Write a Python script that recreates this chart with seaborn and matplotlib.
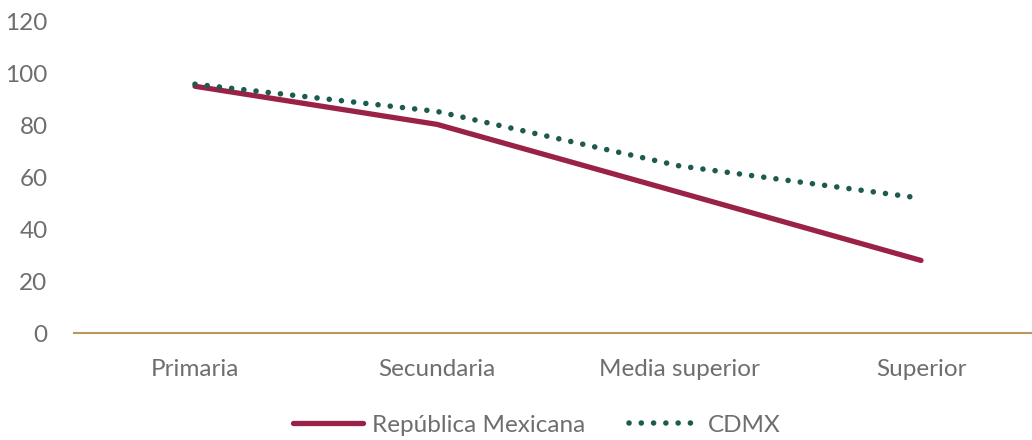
import matplotlib
matplotlib.use("Agg")
import matplotlib.pyplot as plt
import seaborn as sns
import pandas as pd

niveles = ["Primaria", "Secundaria", "Media superior", "Superior"]
republica = [95.2, 80.5, 54.3, 28.0]
cdmx = [96.0, 85.5, 64.5, 52.0]

rojo = "#9B2247"
verde = "#1E5B4F"
dorado = "#BC955C"
gris = "#6E6E6E"

sns.set_style("white")
plt.rcParams["font.family"] = ["Lato", "DejaVu Sans"]

df = pd.DataFrame({"nivel": niveles, "rep": republica, "cdmx": cdmx})

fig = plt.figure(figsize=(10.32, 4.4), dpi=100)
ax = fig.add_axes([74 / 1032, 107 / 440, 968 / 1032, 311 / 440])

sns.lineplot(data=df, x="nivel", y="rep", ax=ax, color=rojo,
             linewidth=3.8, label="República Mexicana", sort=False)
sns.lineplot(data=df, x="nivel", y="cdmx", ax=ax, color=verde,
             linewidth=4.0, label="CDMX", sort=False)

lineas = ax.get_lines()
lineas[0].set_solid_capstyle("round")
lineas[0].set_solid_joinstyle("round")
lineas[1].set_linestyle((0, (0.01, 2.2)))
lineas[1].set_dash_capstyle("round")

ax.set_xlim(-0.5, 3.5)
ax.set_ylim(0, 120)
ax.set_yticks(range(0, 121, 20))
ax.set_xlabel("")
ax.set_ylabel("")

for s in ["top", "right", "left"]:
    ax.spines[s].set_visible(False)
ax.spines["bottom"].set_color(dorado)
ax.spines["bottom"].set_linewidth(1.5)
ax.tick_params(axis="y", length=0, pad=19, labelsize=17.5, labelcolor=gris)
ax.tick_params(axis="x", length=0, pad=19, labelsize=17.5, labelcolor=gris)

ax.get_legend().remove()
handles, labels = ax.get_legend_handles_labels()
leg = fig.legend(handles, labels, loc="center", bbox_to_anchor=(0.52, 0.034),
                 ncol=2, frameon=False, fontsize=17.5, handlelength=2.9,
                 columnspacing=1.8, handletextpad=0.35)
for t in leg.get_texts():
    t.set_color(gris)

fig.savefig("out.png", dpi=100)
